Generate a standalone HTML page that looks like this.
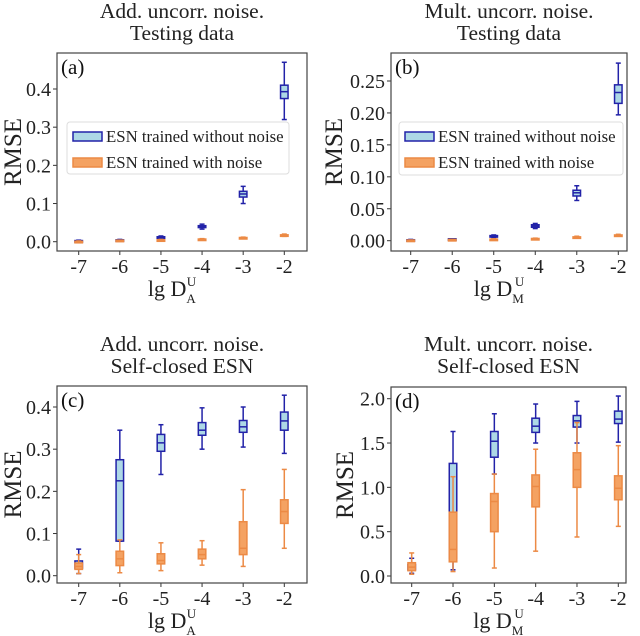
<!DOCTYPE html>
<html><head><meta charset="utf-8"><style>
body{margin:0;background:#fff}
svg{display:block}
svg text{font-family:"Liberation Serif","DejaVu Serif",serif}
</style></head><body>
<svg id="fig" width="640" height="636" viewBox="0 0 640 636" font-family="Liberation Serif, serif"></svg>
<script>
const categories = [-7,-6,-5,-4,-3,-2];
const aBlue = [[0,0.001,0.002,0.003,0.004],[0.002,0.003,0.004,0.005,0.006],[0.008,0.010,0.012,0.013,0.015],[0.033,0.037,0.040,0.042,0.046],[0.10,0.117,0.125,0.132,0.145],[0.32,0.375,0.393,0.41,0.47]];
const aOrange = [[0,0,0.001,0.001,0.002],[0.002,0.003,0.003,0.004,0.004],[0.003,0.004,0.004,0.005,0.006],[0.004,0.005,0.006,0.007,0.008],[0.008,0.009,0.010,0.011,0.012],[0.014,0.016,0.017,0.018,0.020]];
const bBlue = [[0,0.0005,0.001,0.0015,0.002],[0.001,0.0015,0.002,0.003,0.003],[0.005,0.006,0.007,0.008,0.009],[0.019,0.021,0.023,0.025,0.027],[0.063,0.07,0.075,0.079,0.086],[0.197,0.215,0.232,0.244,0.278]];
const bOrange = [[0,0,0.0005,0.001,0.001],[0.001,0.001,0.0015,0.002,0.002],[0.001,0.0015,0.002,0.0025,0.003],[0.002,0.0025,0.003,0.0035,0.004],[0.004,0.005,0.0055,0.006,0.007],[0.007,0.008,0.0085,0.009,0.010]];
const cBlue = [[0.005,0.018,0.025,0.035,0.063],[0.082,0.082,0.225,0.275,0.345],[0.24,0.295,0.315,0.335,0.358],[0.30,0.333,0.345,0.363,0.398],[0.305,0.34,0.353,0.368,0.40],[0.29,0.345,0.367,0.388,0.428]];
const cOrange = [[0.005,0.015,0.022,0.03,0.05],[0.007,0.024,0.04,0.058,0.085],[0.012,0.028,0.036,0.052,0.078],[0.025,0.04,0.05,0.063,0.083],[0.022,0.05,0.065,0.128,0.204],[0.065,0.124,0.152,0.18,0.252]];
const dBlue = [[0.03,0.07,0.10,0.13,0.2],[0.07,0.2,0.66,1.27,1.63],[1.15,1.34,1.52,1.63,1.83],[1.5,1.62,1.69,1.78,1.94],[1.5,1.68,1.75,1.81,1.97],[1.51,1.72,1.77,1.86,2.03]];
const dOrange = [[0.02,0.06,0.1,0.15,0.26],[0.05,0.16,0.3,0.72,1.12],[0.09,0.5,0.84,0.93,1.15],[0.28,0.78,1.01,1.14,1.43],[0.44,1.0,1.2,1.39,1.73],[0.56,0.86,0.99,1.13,1.47]];
const aTicks = [0,0.1,0.2,0.3,0.4];
const bTicks = [0,0.05,0.10,0.15,0.20,0.25];
const cTicks = [0,0.1,0.2,0.3,0.4];
const dTicks = [0,0.5,1.0,1.5,2.0];

const NS="http://www.w3.org/2000/svg";
const svg=document.getElementById('fig');
function mk(tag,attrs,parent,text){const e=document.createElementNS(NS,tag);for(const k in attrs)e.setAttribute(k,attrs[k]);if(text!==undefined)e.textContent=text;(parent||svg).appendChild(e);return e;}

const panels=[
 {id:'a',box:[57,53,307,251],y0:241.7,yv:0.4,yp:89,x0:78.7,x1:284.3,ticks:aTicks,dec:1,blue:aBlue,orange:aOrange,t1:'Add. uncorr. noise.',t2:'Testing data',tb:[18,40],sub:'A',legend:[67,122,222,52],ylx:12},
 {id:'b',box:[391,53,627,251],y0:240.7,yv:0.25,yp:81,x0:410.7,x1:618.3,ticks:bTicks,dec:2,blue:bBlue,orange:bOrange,t1:'Mult. uncorr. noise.',t2:'Testing data',tb:[18,40],sub:'M',legend:[399,122,224,53],ylx:333},
 {id:'c',box:[57,386,307,583],y0:575.7,yv:0.4,yp:407,x0:78.7,x1:284.3,ticks:cTicks,dec:1,blue:cBlue,orange:cOrange,t1:'Add. uncorr. noise.',t2:'Self-closed ESN',tb:[351,373],sub:'A',ylx:12},
 {id:'d',box:[391,387,626,583],y0:576,yv:2.0,yp:398.7,x0:411.7,x1:618.3,ticks:dTicks,dec:1,blue:dBlue,orange:dOrange,t1:'Mult. uncorr. noise.',t2:'Self-closed ESN',tb:[351,373],sub:'M',ylx:344}
];
const BL={s:'#2222a8',f:'#add8e6'}, OR={s:'#ec8a45',f:'#f4a262'};

panels.forEach(p=>{
 const g=mk('g',{});
 
 
 const [L,T,R,B]=p.box;
 const ys=v=>p.y0+(p.yp-p.y0)*v/p.yv;
 const xs=c=>p.x0+(p.x1-p.x0)*(c-categories[0])/(categories[categories.length-1]-categories[0]);
 const cx=(L+R)/2;
 const t1=mk('text',{x:cx,y:p.tb[0],'text-anchor':'middle','font-size':21.5,fill:'#222'},g,p.t1);
 
 
 const t2=mk('text',{x:cx,y:p.tb[1],'text-anchor':'middle','font-size':21.5,fill:'#222'},g,p.t2);
 
 
 p.ticks.forEach(v=>{
  const y=ys(v);
  mk('line',{x1:L-4,x2:L,y1:y,y2:y,stroke:'#333','stroke-width':1},g);
  const t=mk('text',{x:L-6,y:y+7,'text-anchor':'end','font-size':20,fill:'#222'},g,v.toFixed(p.dec));
  
  
 });
 categories.forEach(c=>{
  const x=xs(c);
  mk('line',{x1:x,x2:x,y1:B,y2:B+4,stroke:'#333','stroke-width':1},g);
  const t=mk('text',{x:x,y:B+22,'text-anchor':'middle','font-size':20,fill:'#222'},g,String(c));
  
  
 });
 const yl=mk('text',{x:0,y:0,transform:`translate(${p.ylx+9},${(T+B)/2}) rotate(-90)`,'text-anchor':'middle','font-size':25,fill:'#222'},g,'RMSE');
 
 
 const xl=mk('text',{x:cx-10,y:B+45,'text-anchor':'middle','font-size':22,fill:'#222'},g);
 
 
 xl.appendChild(document.createTextNode('lg D'));
 mk('tspan',{'font-size':13,dy:7},xl,p.sub);
 mk('tspan',{'font-size':13,dx:-9,dy:-17},xl,'U');
 function box(data,col,name){
  data.forEach((d,i)=>{
   const x=xs(categories[i]),w=7.5;
   const bg=mk('g',{},g);
   
   
   mk('line',{x1:x,x2:x,y1:ys(d[0]),y2:ys(d[1]),stroke:col.s,'stroke-width':1.5},bg);
   mk('line',{x1:x,x2:x,y1:ys(d[3]),y2:ys(d[4]),stroke:col.s,'stroke-width':1.5},bg);
   mk('line',{x1:x-2.5,x2:x+2.5,y1:ys(d[0]),y2:ys(d[0]),stroke:col.s,'stroke-width':1.5},bg);
   mk('line',{x1:x-2.5,x2:x+2.5,y1:ys(d[4]),y2:ys(d[4]),stroke:col.s,'stroke-width':1.5},bg);
   const h=Math.max(ys(d[1])-ys(d[3]),1.5);
   mk('rect',{x:x-w/2,y:ys(d[3]),width:w,height:h,fill:col.f,stroke:col.s,'stroke-width':1.5},bg);
   mk('line',{x1:x-w/2,x2:x+w/2,y1:ys(d[2]),y2:ys(d[2]),stroke:col.s,'stroke-width':1.5},bg);
  });
 }
 box(p.blue,BL,'no-noise');
 box(p.orange,OR,'with-noise');
 const fr=mk('rect',{x:L,y:T,width:R-L,height:B-T,fill:'none',stroke:'#444','stroke-width':1.2},g);
 
 
 const pl=mk('text',{x:L+4,y:T+21,'font-size':21,fill:'#111'},g,'('+p.id+')');
 
 
 if(p.legend){
  const [lx,ly,lw,lh]=p.legend;
  const lg=mk('g',{},g);
  
  
  mk('rect',{x:lx,y:ly,width:lw,height:lh,rx:3,fill:'#fff','fill-opacity':0.85,stroke:'#ddd'},lg);
  const e1=mk('g',{},lg);
  
  
  mk('rect',{x:lx+6,y:ly+10,width:29,height:9,fill:BL.f,stroke:BL.s,'stroke-width':1.5},e1);
  mk('text',{x:lx+39,y:ly+20,'font-size':16.8,fill:'#222'},e1,'ESN trained without noise');
  const e2=mk('g',{},lg);
  
  
  mk('rect',{x:lx+6,y:ly+36,width:29,height:9,fill:OR.f,stroke:OR.s,'stroke-width':1.5},e2);
  mk('text',{x:lx+39,y:ly+46,'font-size':16.8,fill:'#222'},e2,'ESN trained with noise');
 }
});
</script>
</body></html>
